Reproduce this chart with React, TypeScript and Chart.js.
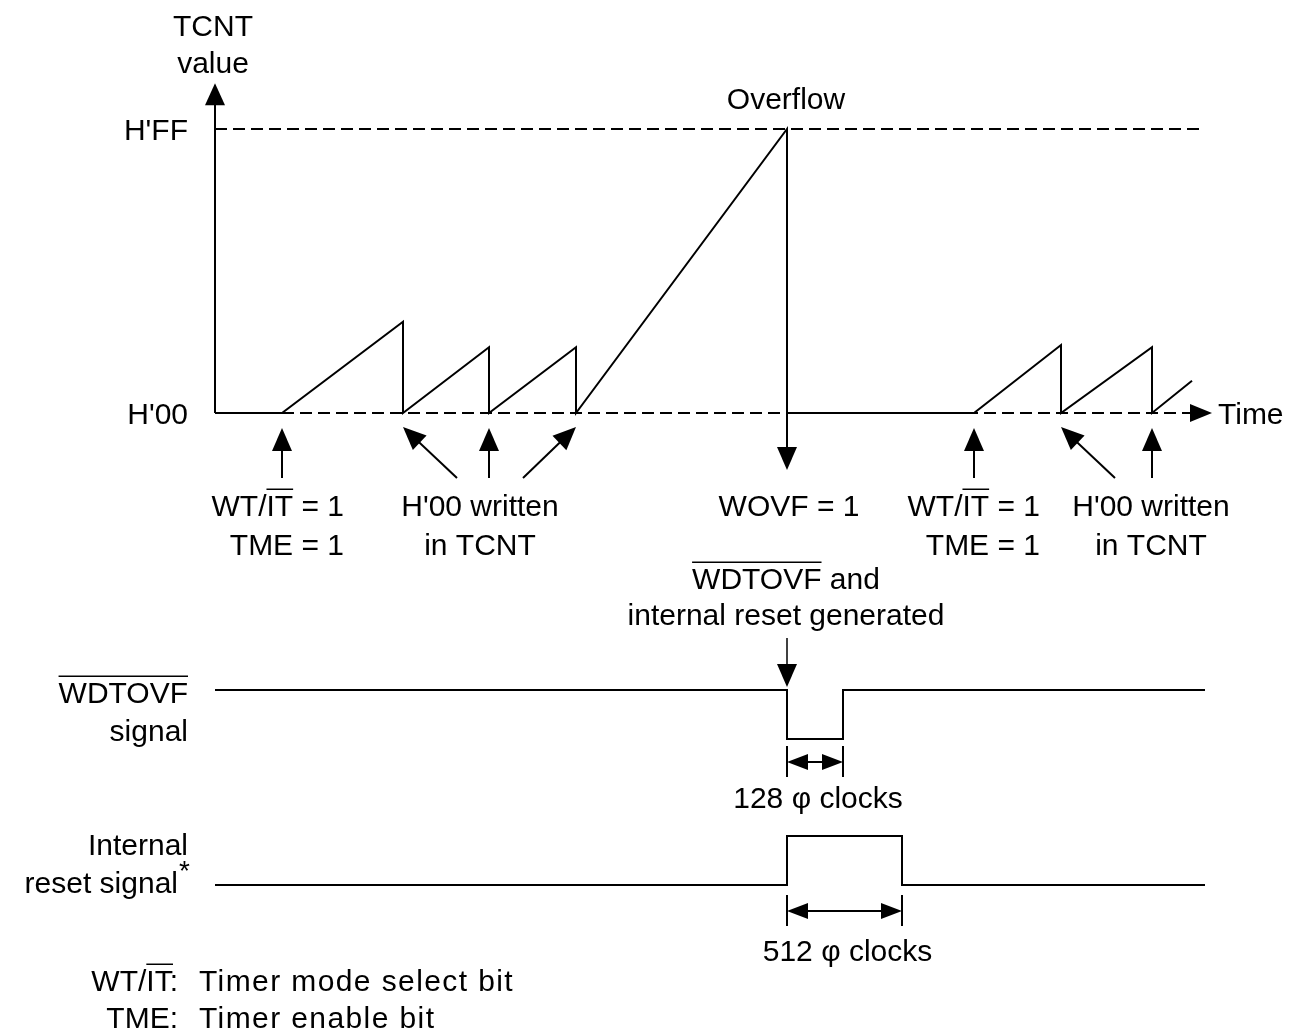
import React, { useEffect, useRef } from "react";
import { Chart, registerables } from "chart.js";

Chart.register(...registerables);

const CW = 1296;
const CH = 1034;

// ---- data (time in arbitrary diagram units, TCNT in counts) ----
const tcntTimes = [0, 67, 188, 188, 274, 274, 361, 361, 572, 572, 759, 846, 846, 937, 937, 977];
const tcntCounts = [0, 0, 82, 0, 59, 0, 59, 0, 255, 0, 0, 61, 0, 59, 0, 29];
const countTickValues = [0, 255];
const countTickLabels = ["H'00", "H'FF"];
const wdtTimes = [0, 572, 572, 628, 628, 990];
const wdtLevels = [1, 1, 0, 0, 1, 1];
const rstTimes = [0, 572, 572, 687, 687, 990];
const rstLevels = [0, 0, 1, 1, 0, 0];
const ffLineEnd = 985;
const zeroRefStart = 67;
const zeroRefEnd = 975;
const timeAxisEnd = 997;
const countAxisEnd = 296;
const enableTimes = [67, 759];
const writeTimes = [188, 274, 361, 846, 937];
const overflowTime = 572;
const pulse128 = [572, 628];
const pulse512 = [572, 687];

// ---- layout helpers (pixel geometry of the diagram) ----
const X0 = 215; // pixel of time 0
const range = (zeroPx: number, unitPx: number) => ({ min: -(CH - zeroPx) / unitPx, max: zeroPx / unitPx });
const yCount = range(413, 284 / 255);
const yWdt = range(739, 49);
const yRst = range(885, 49);

const FONT = '"Liberation Sans", Arial, Helvetica, sans-serif';
const FS = 30;

const pts = (xs: number[], ys: number[]) => xs.map((x, i) => ({ x, y: ys[i] }));

function head(ctx: CanvasRenderingContext2D, fx: number, fy: number, tx: number, ty: number, len = 23, half = 10) {
  const dx = tx - fx, dy = ty - fy;
  const d = Math.hypot(dx, dy) || 1;
  const ux = dx / d, uy = dy / d;
  const bx = tx - ux * len, by = ty - uy * len;
  ctx.beginPath();
  ctx.moveTo(tx, ty);
  ctx.lineTo(bx - uy * half, by + ux * half);
  ctx.lineTo(bx + uy * half, by - ux * half);
  ctx.closePath();
  ctx.fill();
}

function arrow(ctx: CanvasRenderingContext2D, fx: number, fy: number, tx: number, ty: number, len = 23, half = 10) {
  const dx = tx - fx, dy = ty - fy;
  const d = Math.hypot(dx, dy) || 1;
  const bx = tx - (dx / d) * (len - 2), by = ty - (dy / d) * (len - 2);
  ctx.beginPath();
  ctx.moveTo(fx, fy);
  ctx.lineTo(bx, by);
  ctx.stroke();
  head(ctx, fx, fy, tx, ty, len, half);
}

function text(
  ctx: CanvasRenderingContext2D,
  s: string,
  x: number,
  y: number,
  align: "left" | "center" | "right" = "center",
  over?: [number, number],
  size = FS,
  spacing = 0
) {
  ctx.font = `${size}px ${FONT}`;
  ctx.textAlign = "left";
  ctx.textBaseline = "alphabetic";
  (ctx as any).letterSpacing = `${spacing}px`;
  const w = ctx.measureText(s).width;
  const left = align === "center" ? x - w / 2 : align === "right" ? x - w : x;
  const base = y + size * 0.358;
  ctx.fillText(s, left, base);
  if (over) {
    const a = left + ctx.measureText(s.slice(0, over[0])).width;
    const b = left + ctx.measureText(s.slice(0, over[1])).width;
    const oy = base - size * 0.716 - 5;
    ctx.beginPath();
    ctx.lineWidth = 1.5;
    ctx.moveTo(a, oy);
    ctx.lineTo(b, oy);
    ctx.stroke();
  }
  (ctx as any).letterSpacing = "0px";
}

const annotate = {
  id: "annotate",
  afterDatasetsDraw(chart: any) {
    const ctx: CanvasRenderingContext2D = chart.ctx;
    const sx = chart.scales.x, sy = chart.scales.y, sw = chart.scales.yW, sr = chart.scales.yR;
    const px = (t: number) => sx.getPixelForValue(t);
    const y0 = sy.getPixelForValue(0);
    const yFF = sy.getPixelForValue(255);
    const wHi = sw.getPixelForValue(1), wLo = sw.getPixelForValue(0);
    const rHi = sr.getPixelForValue(1), rLo = sr.getPixelForValue(0);
    ctx.save();
    ctx.strokeStyle = "#000";
    ctx.fillStyle = "#000";
    ctx.lineWidth = 2;

    // vertical TCNT axis with arrow
    arrow(ctx, px(0), y0, px(0), sy.getPixelForValue(countAxisEnd), 22, 10);
    // time axis arrow head
    head(ctx, px(zeroRefEnd), y0, px(timeAxisEnd), y0, 22, 9);

    // axis texts
    text(ctx, "TCNT", px(-2), 25);
    text(ctx, "value", px(-2), 62);
    countTickValues.forEach((v, i) => text(ctx, countTickLabels[i], px(-27), sy.getPixelForValue(v), "right"));
    text(ctx, "Overflow", px(overflowTime) - 1, yFF - 31);
    text(ctx, "Time", px(timeAxisEnd) + 6, y0, "left");

    // event arrows below the time axis
    ctx.lineWidth = 2;
    enableTimes.forEach((t) => arrow(ctx, px(t), y0 + 65, px(t), y0 + 15));
    arrow(ctx, px(writeTimes[0]) + 54, y0 + 65, px(writeTimes[0]), y0 + 14);
    arrow(ctx, px(writeTimes[1]), y0 + 65, px(writeTimes[1]), y0 + 15);
    arrow(ctx, px(writeTimes[2]) - 53, y0 + 65, px(writeTimes[2]), y0 + 14);
    arrow(ctx, px(writeTimes[3]) + 54, y0 + 65, px(writeTimes[3]), y0 + 14);
    arrow(ctx, px(writeTimes[4]), y0 + 65, px(writeTimes[4]), y0 + 15);
    arrow(ctx, px(overflowTime), y0, px(overflowTime), y0 + 57);

    // event labels
    text(ctx, "WT/IT = 1", px(enableTimes[0]) + 62, y0 + 92, "right", [3, 5]);
    text(ctx, "TME = 1", px(enableTimes[0]) + 62, y0 + 131, "right");
    text(ctx, "H'00 written", px(writeTimes[1]) - 9, y0 + 92);
    text(ctx, "in TCNT", px(writeTimes[1]) - 9, y0 + 131);
    text(ctx, "WOVF = 1", px(overflowTime) + 2, y0 + 92);
    text(ctx, "WT/IT = 1", px(enableTimes[1]) + 66, y0 + 92, "right", [3, 5]);
    text(ctx, "TME = 1", px(enableTimes[1]) + 66, y0 + 131, "right");
    text(ctx, "H'00 written", px(writeTimes[4]) - 1, y0 + 92);
    text(ctx, "in TCNT", px(writeTimes[4]) - 1, y0 + 131);
    text(ctx, "WDTOVF and", px(overflowTime) - 1, y0 + 165, "center", [0, 6]);
    text(ctx, "internal reset generated", px(overflowTime) - 1, y0 + 201);
    arrow(ctx, px(overflowTime), y0 + 225, px(overflowTime), wHi - 3);

    // signal labels
    text(ctx, "WDTOVF", px(-27), wHi + 2, "right", [0, 6]);
    text(ctx, "signal", px(-27), wHi + 40, "right");
    text(ctx, "Internal", px(-27), rHi + 8, "right");
    text(ctx, "reset signal", px(-37), rLo - 3, "right");
    text(ctx, "*", px(-36), rLo - 15, "left", undefined, 28);

    // pulse width dimensions
    const dim = (a: number, b: number, yTop: number, yMid: number, yBot: number, label: string, ly: number) => {
      ctx.lineWidth = 2;
      [a, b].forEach((t) => {
        ctx.beginPath();
        ctx.moveTo(px(t), yTop);
        ctx.lineTo(px(t), yBot);
        ctx.stroke();
      });
      const xa = px(a), xb = px(b);
      ctx.beginPath();
      ctx.moveTo(xa + 18, yMid);
      ctx.lineTo(xb - 18, yMid);
      ctx.stroke();
      head(ctx, xb, yMid, xa, yMid, 21, 8);
      head(ctx, xa, yMid, xb, yMid, 21, 8);
      text(ctx, label, (xa + xb) / 2 + 3, ly);
    };
    dim(pulse128[0], pulse128[1], wLo + 7, wLo + 23, wLo + 38, "128 \u03c6 clocks", wLo + 58);
    dim(pulse512[0], pulse512[1], rLo + 10, rLo + 26, rLo + 41, "512 \u03c6 clocks", rLo + 65);

    // footnote legend
    text(ctx, "WT/IT:", px(-37), 980, "right", [3, 5]);
    text(ctx, "Timer mode select bit", px(-16), 980, "left", undefined, FS, 1.4);
    text(ctx, "TME:", px(-37), 1017, "right");
    text(ctx, "Timer enable bit", px(-16), 1017, "left", undefined, FS, 1.4);

    ctx.restore();
  },
};

export default function App() {
  const ref = useRef<HTMLCanvasElement | null>(null);
  useEffect(() => {
    if (!ref.current) return;
    const black = "#000000";
    const chart = new Chart(ref.current, {
      type: "line",
      data: {
        datasets: [
          {
            label: "H'FF level",
            data: [{ x: 0, y: 255 }, { x: ffLineEnd, y: 255 }],
            borderColor: black,
            borderWidth: 2,
            borderDash: [12, 6],
            yAxisID: "y",
          },
          {
            label: "H'00 level",
            data: [{ x: zeroRefStart, y: 0 }, { x: zeroRefEnd, y: 0 }],
            borderColor: black,
            borderWidth: 2,
            borderDash: [12, 6],
            yAxisID: "y",
          },
          {
            label: "TCNT value",
            data: pts(tcntTimes, tcntCounts),
            borderColor: black,
            borderWidth: 2,
            yAxisID: "y",
          },
          {
            label: "WDTOVF signal",
            data: pts(wdtTimes, wdtLevels),
            borderColor: black,
            borderWidth: 2,
            yAxisID: "yW",
          },
          {
            label: "Internal reset signal",
            data: pts(rstTimes, rstLevels),
            borderColor: black,
            borderWidth: 2,
            yAxisID: "yR",
          },
        ],
      },
      options: {
        responsive: false,
        animation: false,
        parsing: false as any,
        layout: { padding: 0 },
        elements: { point: { radius: 0 }, line: { tension: 0, fill: false } },
        plugins: { legend: { display: false }, tooltip: { enabled: false } },
        scales: {
          x: { type: "linear", display: false, min: -X0, max: CW - X0 },
          y: { type: "linear", display: false, min: yCount.min, max: yCount.max },
          yW: { type: "linear", display: false, min: yWdt.min, max: yWdt.max },
          yR: { type: "linear", display: false, min: yRst.min, max: yRst.max },
        },
      },
      plugins: [annotate],
    });
    return () => chart.destroy();
  }, []);
  return (
    <div style={{ position: "fixed", left: 0, top: 0, width: CW, height: CH, background: "#fff" }}>
      <canvas ref={ref} width={CW} height={CH} style={{ display: "block" }} />
    </div>
  );
}
